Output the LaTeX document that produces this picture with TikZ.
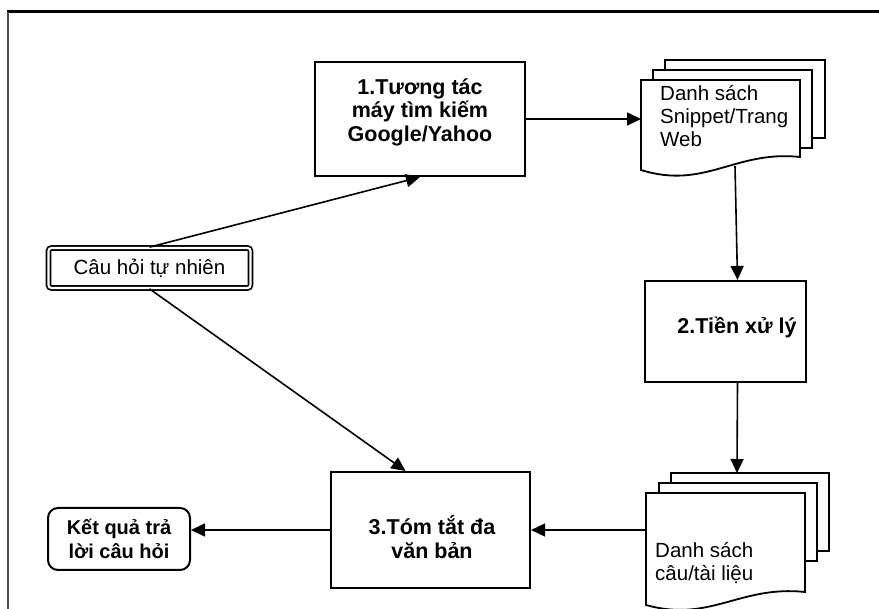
\documentclass[tikz,border=0pt]{standalone}
\usepackage{fontspec}
\setmainfont{Liberation Sans}
\usetikzlibrary{arrows.meta,calc}

\begin{document}
\begin{tikzpicture}[x=1pt,y=-1pt,
  box/.style={draw,line width=2.1pt,inner sep=0pt},
  arr/.style={line width=1.6pt,-{Triangle[length=14pt,width=13pt]}},
  page/.style={draw,fill=white,line width=1.8pt},
  lbl/.style={font=\fontsize{20.5}{23}\selectfont,align=left,inner sep=0pt,anchor=north west},
  bl/.style={font=\bfseries\fontsize{21.5}{23.5}\selectfont,align=center,inner sep=0pt}]
\useasboundingbox (0,0) rectangle (879,609);

% outer frame
\draw[line width=3pt] (7,12) -- (879,12);
\draw[line width=2.2pt,black!70] (8,12) -- (8,609);

% process boxes
\node[box,minimum width=210pt,minimum height=114pt] (b1) at (420,119) {};
\node[bl] (t1) at (420,112) {1.Tương tác\\máy tìm kiếm\\Google/Yahoo};

\node[box,minimum width=161pt,minimum height=101pt] (b2) at (725.5,331.5) {};
\node[bl] (t2) at (737,327) {2.Tiền xử lý};

\node[box,minimum width=199pt,minimum height=116pt] (b3) at (430.5,530) {};
\node[bl] (t3) at (432,537) {3.Tóm tắt đa\\văn bản};

% question (double border) and result (rounded)
\node[draw,line width=1.7pt,double=white,double distance=2.2pt,rounded corners=3pt,
      minimum width=202pt,minimum height=40pt,inner sep=0pt,
      font=\fontsize{20.5}{23}\selectfont] (q) at (149.5,268) {Câu hỏi tự nhiên};

\node[draw,line width=2pt,rounded corners=10pt,minimum width=142pt,minimum height=62pt,
      inner sep=0pt,align=center,font=\bfseries\fontsize{20}{24}\selectfont] (res) at (119,539)
      {Kết quả trả\\lời câu hỏi};

% document stack 1
\draw[page] (665,60) rectangle (825,138);
\draw[page] (653,70) rectangle (812,148);
\draw[page] (641,80) -- (800,80) -- (800,157)
   .. controls (735,150) and (705,190) .. (641,170) -- cycle;
\node[lbl] (d1t) at (660,85) {Danh sách\\Snippet/Trang\\Web};
\coordinate (d1w) at (641,119);
\coordinate (d1s) at (735,166);

% document stack 2
\draw[page] (671,473) rectangle (829,551);
\draw[page] (659,483) rectangle (817,561);
\draw[page] (646,493) -- (805,493) -- (805,592)
   .. controls (740,585) and (710,623) .. (646,605) -- cycle;
\node[lbl] (d2t) at (655,542) {Danh sách\\câu/tài liệu};
\coordinate (d2w) at (646,530);
\coordinate (d2n) at (737,473);

% connectors
\draw[arr] (q.north) -- (b1.south);
\draw[arr] (q.south) -- ([xshift=-25pt]b3.north);
\draw[arr] (b1.east) -- (d1w);
\draw[arr] (d1s) -- ([xshift=12pt]b2.north);
\draw[arr] ([xshift=12pt]b2.south) -- (d2n);
\draw[arr] (d2w) -- (d2w -| b3.east);
\draw[arr] (b3.west) -- (b3.west -| res.east);
\end{tikzpicture}
\end{document}
